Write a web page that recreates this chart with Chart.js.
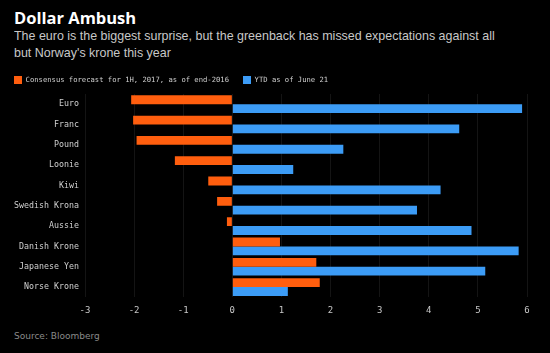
<!DOCTYPE html>
<html lang="en">
<head>
<meta charset="UTF-8">
<title>Dollar Ambush</title>
<script src="https://cdn.jsdelivr.net/npm/chart.js"></script>
<style>
    body {
        margin: 0;
        background: #000;
        width: 550px;
        height: 353px;
        overflow: hidden;
        position: relative;
        font-family: 'Liberation Sans', Arial, sans-serif;
    }
    .title {
        position: absolute;
        left: 14px;
        top: 6px;
        color: #fff;
        font-family: 'Open Sans', sans-serif;
        font-weight: bold;
        font-size: 16.5px;
        white-space: nowrap;
    }
    .subtitle {
        position: absolute;
        left: 14px;
        top: 27px;
        color: #c8c8c8;
        font-size: 13.5px;
        line-height: 17px;
        white-space: nowrap;
        transform: scaleX(0.923);
        transform-origin: left top;
    }
    .source {
        position: absolute;
        left: 14px;
        top: 331px;
        color: #8a8a8a;
        font-size: 9px;
        font-family: 'DejaVu Sans', sans-serif;
    }
    .chart-box {
        position: absolute;
        left: 0;
        top: 55px;
        width: 550px;
        height: 269px;
    }
</style>
</head>
<body>
<div class="title">Dollar Ambush</div>
<div class="subtitle">The euro is the biggest surprise, but the greenback has missed expectations against all<br>but Norway's krone this year</div>
<div class="chart-box"><canvas id="chart"></canvas></div>
<div class="source">Source: Bloomberg</div>

<script>
    const currencies = ['Euro', 'Franc', 'Pound', 'Loonie', 'Kiwi', 'Swedish Krona', 'Aussie', 'Danish Krone', 'Japanese Yen', 'Norse Krone'];
    const consensus = [-2.06, -2.02, -1.95, -1.17, -0.49, -0.31, -0.11, 0.97, 1.71, 1.78];
    const ytd = [5.9, 4.62, 2.26, 1.24, 4.24, 3.76, 4.87, 5.83, 5.15, 1.13];
    const xTicks = [-3, -2, -1, 0, 1, 2, 3, 4, 5, 6];

    const monoFont = "'DejaVu Sans Mono', monospace";

    new Chart(document.getElementById('chart'), {
        type: 'bar',
        data: {
            labels: currencies,
            datasets: [
                {
                    label: 'Consensus forecast for 1H, 2017, as of end-2016',
                    data: consensus,
                    backgroundColor: '#ff5e0e'
                },
                {
                    label: 'YTD as of June 21',
                    data: ytd,
                    backgroundColor: '#3c9cf6'
                }
            ]
        },
        options: {
            indexAxis: 'y',
            responsive: true,
            maintainAspectRatio: false,
            animation: false,
            layout: { padding: { left: 0, right: 23, top: 7, bottom: 0 } },
            datasets: {
                bar: { categoryPercentage: 0.87, barPercentage: 1.0 }
            },
            plugins: {
                legend: {
                    position: 'top',
                    align: 'start',
                    labels: {
                        color: '#d0d0d0',
                        font: { family: monoFont, size: 7.2 },
                        boxWidth: 8,
                        boxHeight: 8,
                        padding: 14
                    }
                },
                tooltip: { enabled: false }
            },
            scales: {
                x: {
                    min: -3,
                    max: 6,
                    afterBuildTicks: function(axis) {
                        axis.ticks = xTicks.map(v => ({ value: v }));
                    },
                    grid: {
                        color: 'rgba(255,255,255,0.08)',
                        drawTicks: false
                    },
                    border: { display: false },
                    ticks: {
                        color: '#c8c8c8',
                        font: { family: monoFont, size: 9 },
                        padding: 8
                    }
                },
                y: {
                    grid: { display: false, drawTicks: false },
                    border: { display: false },
                    afterFit: function(axis) { axis.width = 85; },
                    ticks: {
                        color: '#d0d0d0',
                        font: { family: monoFont, size: 8.3 },
                        padding: 6
                    }
                }
            }
        }
    });
</script>
</body>
</html>
